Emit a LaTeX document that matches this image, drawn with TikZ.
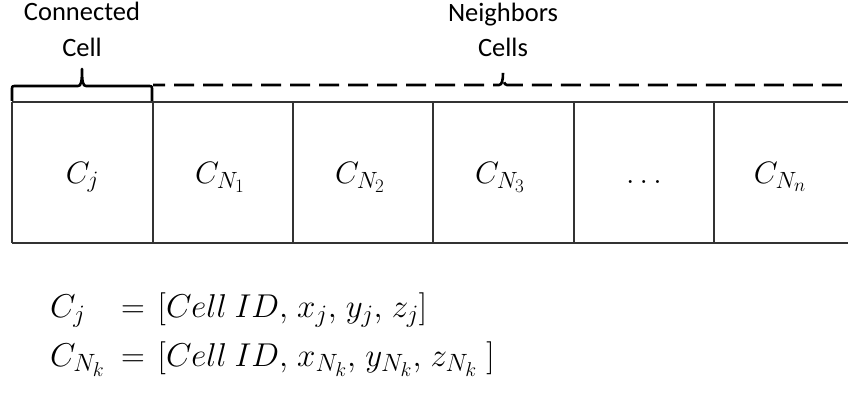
\RequirePackage{fix-cm}
\documentclass[tikz,border=0pt]{standalone}
\usepackage{fontspec}
\setmainfont{Carlito}
\DeclareMathSizes{31}{31}{23.5}{19}
\DeclareMathSizes{33}{33}{25}{20}
\newcommand\myeqsp{\thinmuskip=5mu\relax\medmuskip=6mu\relax\thickmuskip=7mu\relax}
\begin{document}
\begin{tikzpicture}[x=1pt,y=-1pt,
  lbl/.style={font=\fontsize{26.5}{30}\selectfont, inner sep=0pt, anchor=base},
  cellmath/.style={font=\fontsize{31}{36}\selectfont, inner sep=0pt, anchor=base},
  eqmath/.style={font=\fontsize{33}{38}\selectfont, inner sep=0pt, anchor=base west},
  gridline/.style={line width=1.1pt, draw=black!80},
  bracel/.style={line width=2.6pt, line join=round},
  dashbrace/.style={line width=2.6pt, dash pattern=on 20pt off 9pt, dash phase=8pt}]
\useasboundingbox (0,0) rectangle (848,401);
% grid
\coordinate (tl) at (12,102);
\coordinate (tr) at (848,102);
\coordinate (bl) at (12,243);
\coordinate (br) at (848,243);
\draw[gridline] (tl) -- (tr);
\draw[gridline, line width=1.6pt] (bl) -- (br);
\foreach \x in {12,153,293,433,574,714}{
  \draw[gridline] (\x,102) -- (\x,243);
}
% cell contents
\node[cellmath] (c0) at (82.5,183) {$C_j$};
\node[cellmath] (c1) at (220,183) {$C_{N_1}$};
\node[cellmath] (c2) at (360,183) {$C_{N_2}$};
\node[cellmath] (c3) at (500,183) {$C_{N_3}$};
\node[cellmath] (c4) at (644,183) {$\dots$};
\node[cellmath] (c5) at (780,183) {$C_{N_n}$};
% labels
\node[lbl] (con) at (82,21) {Connected};
\node[lbl] (cel) at (82,57) {Cell};
\node[lbl] (nei) at (503,22) {Neighbors};
\node[lbl] (nce) at (503,57) {Cells};
% connected brace
\draw[bracel] (12,101) -- (12,90) .. controls (12,86) .. (16,86) -- (78,86)
  .. controls (81,86) and (82,82) .. (82,69)
  .. controls (82,82) and (83,86) .. (86,86) -- (148,86)
  .. controls (152,86) .. (152,90) -- (152,101);
% neighbours brace (dashed)
\draw[dashbrace] (153,85) -- (499,85)
  .. controls (502,85) and (503,80) .. (503,73)
  .. controls (503,80) and (504,85) .. (507,85) -- (848,85);
% equations
\node[eqmath] (l1) at (50,317) {$C_j$};
\node[eqmath] (r1) at (121,317) {$\myeqsp= [Cell\ ID, x_j, y_j, z_j]$};
\node[eqmath] (l2) at (50,366) {$C_{N_k}$};
\node[eqmath] (r2) at (121,366) {$\myeqsp= [Cell\ ID, x_{N_k}, y_{N_k}, z_{N_k}\,]$};
\end{tikzpicture}
\end{document}
